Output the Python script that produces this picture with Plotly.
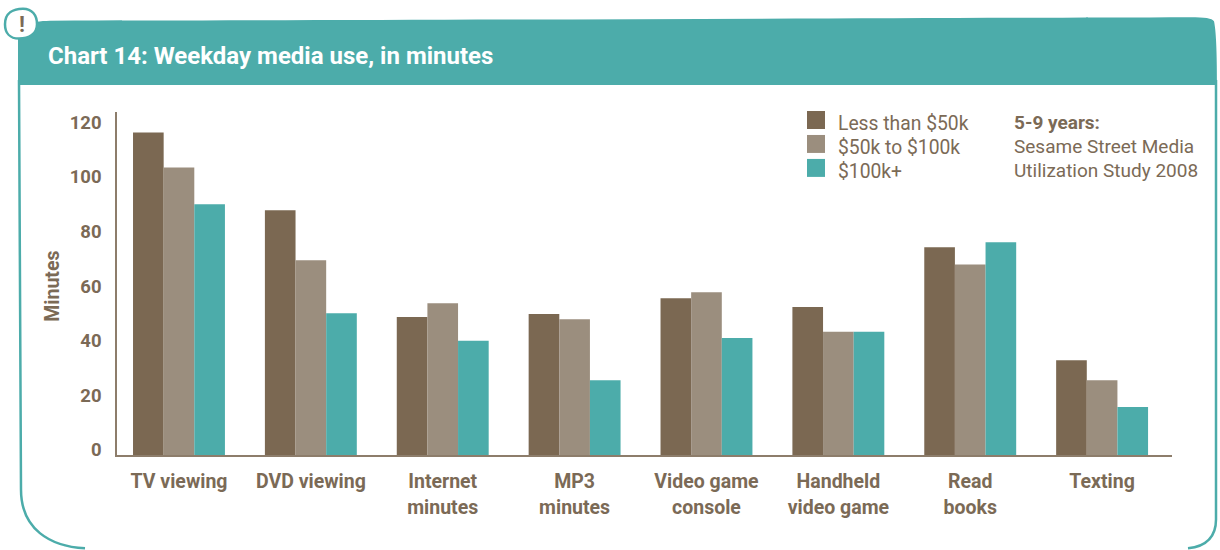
import plotly.graph_objects as go

categories = ["TV viewing", "DVD viewing", "Internet<br>minutes", "MP3<br>minutes",
              "Video game<br>console", "Handheld<br>video game", "Read<br>books", "Texting"]
series_names = ["Less than $50k", "$50k to $100k", "$100k+"]
low_income = [118.1, 89.6, 50.5, 51.6, 57.4, 54.2, 76.1, 34.7]
mid_income = [105.3, 71.3, 55.6, 49.7, 59.6, 45.1, 69.8, 27.4]
high_income = [91.8, 51.9, 41.8, 27.4, 42.8, 45.1, 77.9, 17.6]
y_ticks = [0, 20, 40, 60, 80, 100, 120]
note_lines = ["<b>5-9 years:</b>", "Sesame Street Media", "Utilization Study 2008"]

BROWN, TAUPE, TEAL = "#7b6852", "#9b8e7e", "#4cacaa"
TEXT = "#7b6a56"
FONT = "Roboto"
W, H = 1220, 550
L, R, T, B = 117, 1172, 112, 455.5


def px(x):
    return (x - L) / (R - L)


def py(y):
    return (B - y) / (B - T)


def path(points):
    out = []
    for cmd, *coords in points:
        out.append(cmd + " " + " ".join(
            f"{px(coords[i]):.5f},{py(coords[i + 1]):.5f}" for i in range(0, len(coords), 2)))
    return " ".join(out)


fig = go.Figure()
for name, vals, col in zip(series_names, [low_income, mid_income, high_income], [BROWN, TAUPE, TEAL]):
    fig.add_bar(x=categories, y=vals, name=name, marker=dict(color=col, line=dict(width=0)))

shapes = [
    # outer frame
    dict(type="path", xref="paper", yref="paper", layer="below", fillcolor="rgba(0,0,0,0)",
         line=dict(color=TEAL, width=2.5),
         path=path([("M", 19, 80), ("L", 21, 490), ("C", 21, 530, 50, 547, 85, 549)])),
    dict(type="path", xref="paper", yref="paper", layer="below", fillcolor="rgba(0,0,0,0)",
         line=dict(color=TEAL, width=2.5),
         path=path([("M", 1216, 80), ("L", 1216, 520), ("C", 1216, 538, 1205, 547, 1188, 549)])),
    # header band
    dict(type="path", xref="paper", yref="paper", layer="below", fillcolor=TEAL, line=dict(width=0),
         path=path([("M", 18, 85), ("L", 18, 36), ("C", 18, 25, 30, 21, 50, 20.5),
                    ("C", 400, 20, 900, 18, 1190, 17), ("C", 1205, 17, 1212, 18, 1214, 21),
                    ("C", 1216, 30, 1217, 50, 1217, 85), ("Z",)])),
    # badge
    dict(type="path", xref="paper", yref="paper", layer="above", fillcolor="white",
         line=dict(color=TEAL, width=2.5),
         path=path([("M", 5, 24), ("C", 5, 13, 13, 8.5, 23, 8.5), ("C", 32, 8.5, 37, 15, 37, 24),
                    ("C", 37, 34, 29, 38.5, 19, 38.5), ("C", 10, 38.5, 5, 33, 5, 24), ("Z",)])),
]
annotations = [
    dict(text="<b>!</b>", x=px(21.5), y=py(24), font=dict(size=22, color=TEXT)),
    dict(text="<b>Chart 14: Weekday media use, in minutes</b>", x=px(47), y=py(56), xanchor="left",
         font=dict(size=24, color="white")),
    dict(text="<b>Minutes</b>", x=px(53), y=py(287), textangle=-90, font=dict(size=19.5, color=TEXT)),
]
for i, (name, col) in enumerate(zip(series_names, [BROWN, TAUPE, TEAL])):
    yc = 120 + i * 24
    shapes.append(dict(type="rect", xref="paper", yref="paper", x0=px(807), x1=px(825),
                       y0=py(yc + 9), y1=py(yc - 9), fillcolor=col, line=dict(width=0)))
    annotations.append(dict(text=name, x=px(837), y=py(yc + 4), xanchor="left",
                            font=dict(size=19.3, color=TEXT)))
for i, line in enumerate(note_lines):
    annotations.append(dict(text=line, x=px(1013), y=py(123 + i * 24), xanchor="left",
                            font=dict(size=19, color=TEXT)))
for a in annotations:
    a.update(xref="paper", yref="paper", showarrow=False, yanchor="middle", borderpad=0)
    a.setdefault("xanchor", "center")

fig.update_layout(
    width=W, height=H, autosize=False,
    margin=dict(l=L, r=W - R, t=T, b=H - B, pad=0),
    paper_bgcolor="white", plot_bgcolor="rgba(0,0,0,0)",
    barmode="group", bargap=0.303, bargroupgap=0, showlegend=False,
    font=dict(family=FONT, color=TEXT),
    shapes=shapes, annotations=annotations,
    xaxis=dict(type="category", range=[-0.47, 7.53], tickfont=dict(size=19.5, weight="bold", color=TEXT),
               showgrid=False, zeroline=False, showline=True, linecolor="#8d7d6b", linewidth=1.5,
               ticks="", ticklabelstandoff=8),
    yaxis=dict(range=[0, 125.6], tickvals=y_ticks, tickfont=dict(size=18.5, weight="bold", color=TEXT),
               showgrid=False, zeroline=False, showline=True, linecolor="#8d7d6b", linewidth=1.5,
               ticks="", ticklabelstandoff=10, ticklabelshift=-5),
)
fig.write_html("out.html", config={"displayModeBar": False},
               post_script="document.body.style.margin='0';document.body.style.overflow='hidden';")
